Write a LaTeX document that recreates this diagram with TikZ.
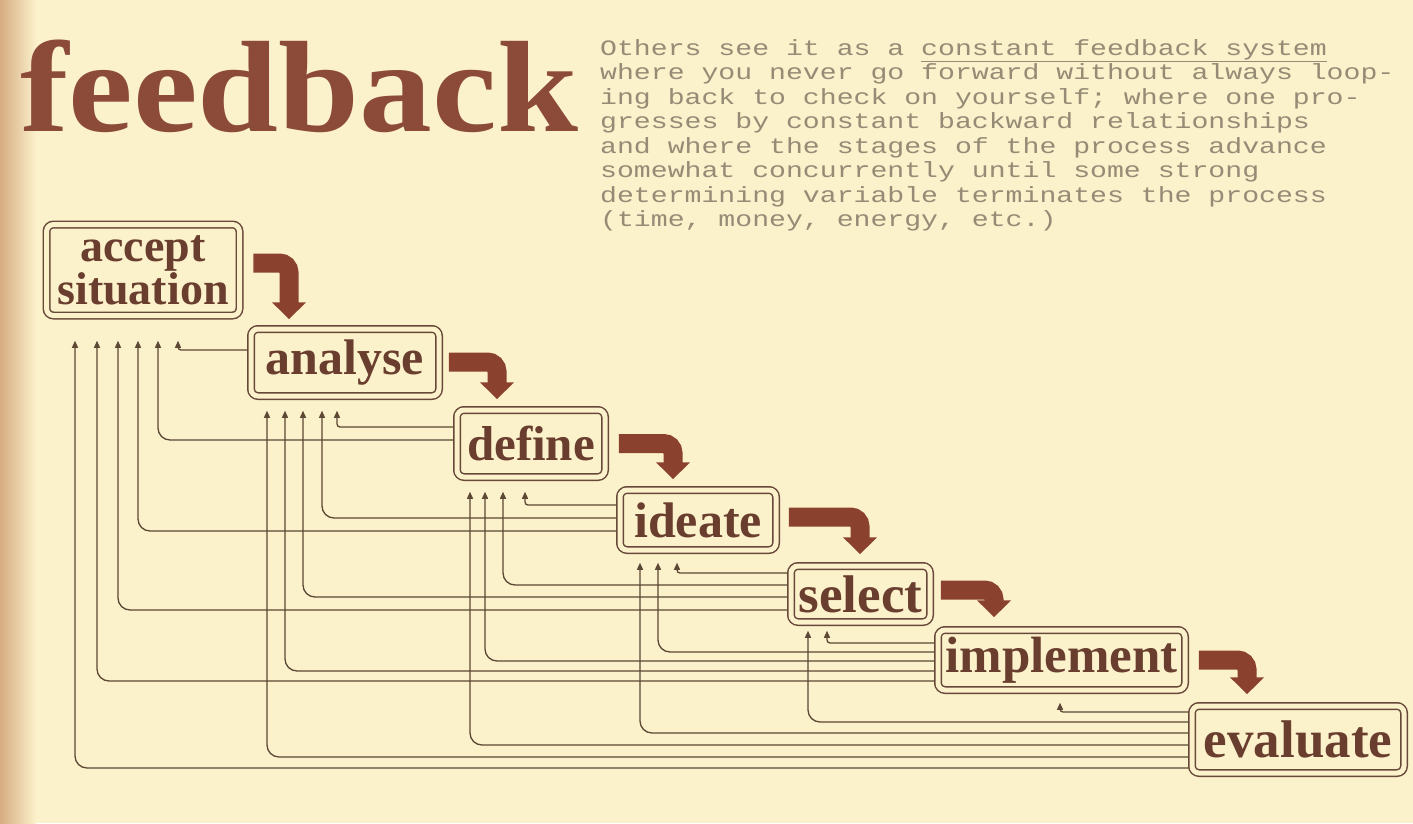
\documentclass[tikz,border=0pt]{standalone}
\usepackage{fontspec}
\usepackage{graphicx}
\setmainfont{Liberation Serif}
\newfontfamily\monofont{Liberation Mono}
\usetikzlibrary{arrows.meta,calc}
\definecolor{cream}{RGB}{251,241,203}
\definecolor{tanedge}{RGB}{214,172,130}
\definecolor{titlec}{RGB}{140,74,56}
\definecolor{labc}{RGB}{106,62,46}
\definecolor{boxc}{RGB}{104,72,56}
\definecolor{arrc}{RGB}{138,66,46}
\definecolor{linec}{RGB}{92,72,52}
\definecolor{parac}{RGB}{150,140,118}
\newcommand{\wide}[1]{\scalebox{1.28}[1]{#1}}
\pgfdeclarelayer{bg}
\pgfdeclarelayer{fbl}
\pgfsetlayers{bg,fbl,main}
\begin{document}
\begin{tikzpicture}[x=1pt,y=-1pt,
  ttl/.style={anchor=base west, inner sep=0pt, text=titlec,
    font=\bfseries\fontsize{130}{130}\selectfont},
  para/.style={anchor=base west, inner sep=0pt, text=parac,
    font=\monofont\fontsize{22}{24.5}\selectfont},
  stage/.style={draw=boxc, line width=1.5pt, double=cream, double distance=5pt,
    rounded corners=7pt, fill=cream, text=labc, inner sep=0pt,
    font=\bfseries\fontsize{50}{50}\selectfont},
  bigarr/.style={draw=arrc, line width=19pt, rounded corners=9.5pt,
    -{Triangle[length=17pt,width=33pt]}},
  fb/.style={draw=linec, line width=1.3pt, -{Triangle[length=7pt,width=6pt]}}
]
\useasboundingbox (0,0) rectangle (1413,823);
\begin{pgfonlayer}{bg}
  \fill[cream] (0,0) rectangle (1413,823);
  \shade[left color=tanedge, right color=cream] (0,0) rectangle (36,823);
\end{pgfonlayer}

% title
\node[ttl] (title) at (20,131) {\scalebox{1.12}[1]{feedback}};

% paragraph
\node[para] (p1) at (600,55) {\wide{Others see it as a \underline{constant feedback system}}};
\node[para] (p2) at (600,79.5) {\wide{where you never go forward without always loop-}};
\node[para] (p3) at (600,104) {\wide{ing back to check on yourself; where one pro-}};
\node[para] (p4) at (600,128.5) {\wide{gresses by constant backward relationships}};
\node[para] (p5) at (600,153) {\wide{and where the stages of the process advance}};
\node[para] (p6) at (600,177.5) {\wide{somewhat concurrently until some strong}};
\node[para] (p7) at (600,202) {\wide{determining variable terminates the process}};
\node[para] (p8) at (600,226.5) {\wide{(time, money, energy, etc.)}};

% stages
\node[stage, minimum width=193pt, minimum height=91pt, align=center,
      font=\bfseries\fontsize{46}{32}\selectfont] (acc) at (143,270) {accept\\situation};
\node[stage, minimum width=188pt, minimum height=67pt] (ana) at (345,362.5) {analyse};
\node[stage, minimum width=148pt, minimum height=67pt, font=\bfseries\fontsize{49}{49}\selectfont] (def) at (531,443.5) {define};
\node[stage, minimum width=156pt, minimum height=60pt] (ide) at (698,520) {ideate};
\node[stage, minimum width=139pt, minimum height=56pt, font=\bfseries\fontsize{53}{53}\selectfont] (sel) at (860.5,594) {select};
\node[stage, minimum width=247pt, minimum height=60pt, font=\bfseries\fontsize{51}{51}\selectfont] (imp) at (1061.5,660) {implement};
\node[stage, minimum width=212pt, minimum height=67pt, font=\bfseries\fontsize{53}{53}\selectfont] (eva) at (1298,739.5) {evaluate};

% forward bent arrows
\draw[bigarr] ($(acc.east |- 0,263)+(13,0)$) -| ($(289,0 |- ana.north)+(0,-9)$);
\draw[bigarr] ($(ana.east |- 0,362)+(9,0)$) -| ($(497,0 |- def.north)+(0,-10)$);
\draw[bigarr] ($(def.east |- 0,443.5)+(13,0)$) -| ($(673,0 |- ide.north)+(0,-10)$);
\draw[bigarr] ($(ide.east |- 0,517)+(12,0)$) -| ($(860,0 |- sel.north)+(0,-11)$);
\draw[bigarr] ($(sel.east |- 0,590)+(10,0)$) -| ($(994,0 |- imp.north)+(0,-12)$);
\draw[bigarr] ($(imp.east |- 0,660)+(13,0)$) -| ($(1247,0 |- eva.north)+(0,-11)$);

% feedback lines
\begin{pgfonlayer}{fbl}
\foreach \s/\yy/\d/\xx/\off/\r in {
  ana/350/acc/178/24.5/3pt,
  def/427/ana/337/14/3pt,
  def/440/acc/158/24.5/12pt,
  ide/505/def/525/14/3pt,
  ide/518/ana/322/14/12pt,
  ide/531/acc/138/24.5/12pt,
  sel/573/ide/677/12/3pt,
  sel/585/def/503/14/12pt,
  sel/597/ana/303/14/12pt,
  sel/610/acc/118/24.5/12pt,
  imp/643/sel/827/8/3pt,
  imp/652/ide/658/12/12pt,
  imp/661/def/485/14/12pt,
  imp/671/ana/285/14/12pt,
  imp/681/acc/97/24.5/12pt,
  eva/712/imp/1060/12/3pt,
  eva/722/sel/808/8/12pt,
  eva/733/ide/640/12/12pt,
  eva/745/def/470/14/12pt,
  eva/757/ana/267/14/12pt,
  eva/768/acc/75/24.5/12pt}
  \draw[fb, rounded corners=\r] (\s.west |- 0,\yy) -| ($(\xx,0 |- \d.south)+(0,\off)$);
\end{pgfonlayer}
\end{tikzpicture}
\end{document}
